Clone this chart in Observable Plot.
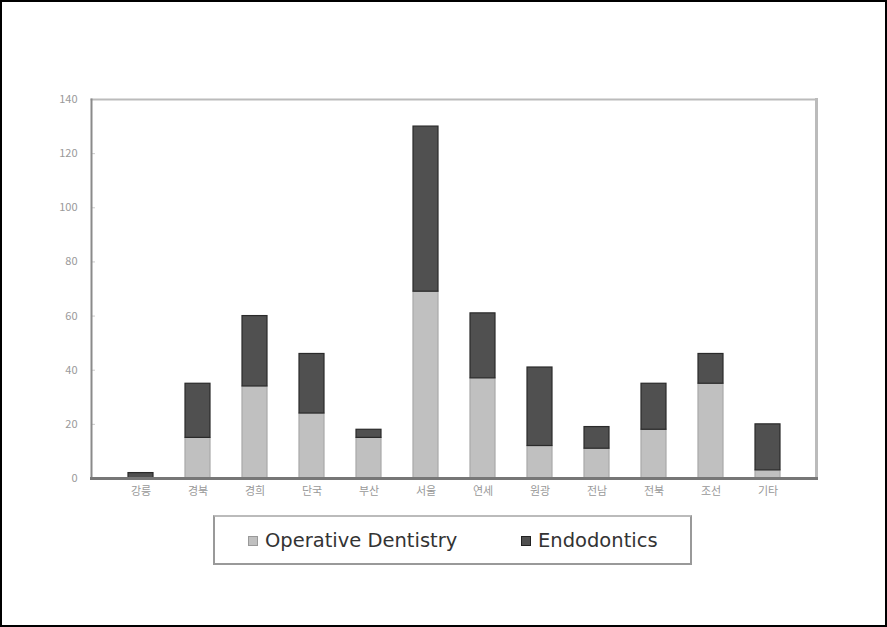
<!DOCTYPE html>
<html><head><meta charset="utf-8">
<script src="https://cdn.jsdelivr.net/npm/d3@7"></script>
<script src="https://cdn.jsdelivr.net/npm/@observablehq/plot@0.6"></script>
<style>
html,body{margin:0;padding:0;background:#fff;}
#wrap{position:relative;width:887px;height:627px;box-sizing:border-box;border:2px solid #000;background:#fff;overflow:hidden;font-family:"Noto Sans CJK KR","DejaVu Sans",sans-serif;}
#legend{position:absolute;left:211px;top:513px;width:479px;height:50px;box-sizing:border-box;border:2px solid #999;border-top-color:#bbb;font-family:"DejaVu Sans",sans-serif;font-size:19.5px;color:#333;}
.sw{display:inline-block;width:10px;height:10px;margin-right:7px;box-sizing:border-box;}
.item{display:flex;align-items:center;position:absolute;top:12px;}
</style></head>
<body><div id="wrap"><div id="chart"></div>
<div id="legend">
<div class="item" style="left:33px"><span class="sw" style="background:#c0c0c0;border:1px solid #999"></span>Operative Dentistry</div>
<div class="item" style="left:306px"><span class="sw" style="background:#505050;border:1px solid #222"></span>Endodontics</div>
</div></div>
<script>
const schools = ["강릉","경북","경희","단국","부산","서울","연세","원광","전남","전북","조선","기타"];
const operative = [0,15,34,24,15,69,37,12,11,18,35,3];
const endodontics = [2,20,26,22,3,61,24,29,8,17,11,17];
const series = ["Operative Dentistry","Endodontics"];
const yTicks = [0,20,40,60,80,100,120,140];

const data = [];
schools.forEach((s,i)=>{
  data.push({school:s, series:series[0], value:operative[i]});
  data.push({school:s, series:series[1], value:endodontics[i]});
});

const chart = Plot.plot({
  width: 883, height: 505,
  marginLeft: 89, marginRight: 69, marginTop: 97, marginBottom: 29,
  style:{fontFamily:'"Noto Sans CJK KR","DejaVu Sans",sans-serif', fontSize:"11px", color:"#999", background:"#fff"},
  x:{domain:schools, padding:0.57, label:null},
  y:{domain:[0,140], label:null},
  color:{domain:series, range:["#c0c0c0","#505050"]},
  marks:[
    Plot.axisX({tickSize:0, tickPadding:9, fill:"#999"}),
    Plot.axisY(yTicks, {tickSize:0, tickPadding:14, fill:"#999"}),
    Plot.axisY(yTicks.slice(1,-1), {tickSize:-4, text:null, stroke:"#ccc"}),
    Plot.barY(data, Plot.stackY({x:"school", y:"value", fill:"series", order:series,
      stroke:d=>d.series===series[0]?"#a8a8a8":"#2a2a2a", strokeWidth:1.2})),
    Plot.frame({anchor:"top", stroke:"#bbb", strokeWidth:2}),
    Plot.frame({anchor:"right", stroke:"#bbb", strokeWidth:3}),
    Plot.frame({anchor:"left", stroke:"#8a8a8a", strokeWidth:2}),
    Plot.frame({anchor:"bottom", stroke:"#777", strokeWidth:3})
  ]
});
document.getElementById("chart").appendChild(chart);
</script></body></html>
